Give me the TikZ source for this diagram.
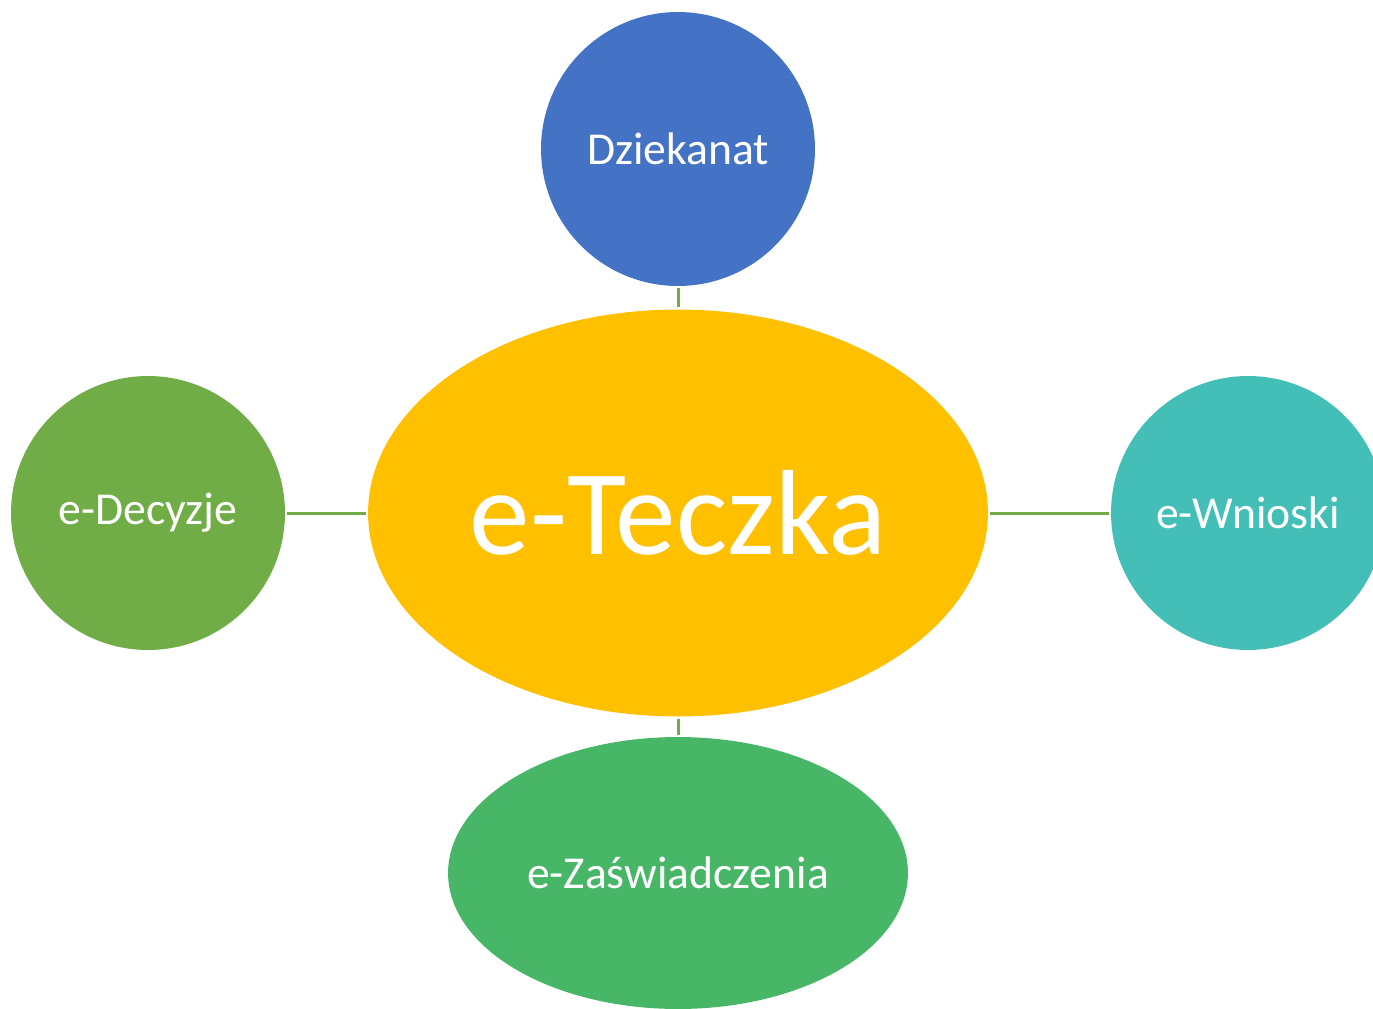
\documentclass[tikz,border=0pt]{standalone}
\usepackage{fontspec}
\setmainfont{Carlito}
\usetikzlibrary{shapes.geometric,positioning}

\definecolor{blueDz}{HTML}{4472C4}
\definecolor{goldT}{HTML}{FFC000}
\definecolor{greenDe}{HTML}{70AD47}
\definecolor{tealWn}{HTML}{43BFB8}
\definecolor{greenZa}{HTML}{47B667}

\tikzset{
  bubble/.style={circle,inner sep=0pt,minimum size=5.48cm,text=white,
    font=\fontsize{26}{30}\selectfont},
  oval/.style={ellipse,inner sep=0pt,text=white},
  link/.style={draw=greenDe,line width=1.7pt,shorten <=0.04cm,shorten >=0.04cm}
}

\begin{document}
\begin{tikzpicture}[x=0.02cm,y=-0.02cm]

\useasboundingbox (0,0) rectangle (1373,1008);
\clip (0,0) rectangle (1373,1008);

\node [oval,fill=goldT,minimum width=12.4cm,minimum height=8.14cm,
  font=\fontsize{69}{80}\selectfont] (teczka) at (678,513) {e-Teczka};

\node [bubble,fill=blueDz] (dziekanat) at (678,149) {Dziekanat};
\node [bubble,fill=greenDe] (decyzje) at (148,513) {e-Decyzje};
\node [bubble,fill=tealWn] (wnioski) at (1248,513) {e-Wnioski};
\node [oval,fill=greenZa,minimum width=9.2cm,minimum height=5.44cm,
  font=\fontsize{26}{30}\selectfont] (zasw) at (678,873) {e-Zaświadczenia};

\path [link]
	(dziekanat) edge (teczka)
	(decyzje) edge (teczka)
	(wnioski) edge (teczka)
	(zasw) edge (teczka)
;

\end{tikzpicture}
\end{document}
